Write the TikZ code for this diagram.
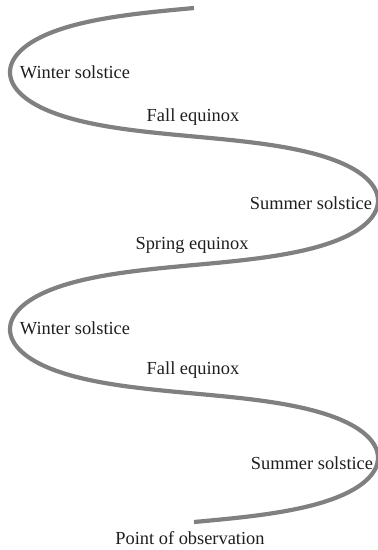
\documentclass[tikz,border=0pt]{standalone}
\usepackage{fontspec}
\setmainfont{Liberation Serif}
\usetikzlibrary{positioning}
\definecolor{helixC}{HTML}{808080}
\definecolor{labC}{HTML}{1E1E1E}
\tikzset{
  helix/.style={draw=helixC, line width=4.2pt, line join=round},
  lab/.style={font=\fontsize{18.4}{22}\selectfont, text=labC, inner sep=0pt, anchor=center},
}
\begin{document}
\begin{tikzpicture}[x=1pt, y=-1pt]
\useasboundingbox (0,0) rectangle (378,550);
\draw[helix] plot[smooth, domain=0:720, samples=181, variable=\t]
  ({194-184*sin(\t)}, {8+0.7139*\t-12*sin(2*\t)});
\node[lab] (winterA) at (75,72) {Winter solstice};
\node[lab] (fallA) at (193,117) {Fall equinox};
\node[lab] (summerA) at (311,203) {Summer solstice};
\node[lab] (spring) at (192,245) {Spring equinox};
\node[lab] (winterB) at (75,328) {Winter solstice};
\node[lab] (fallB) at (193,370) {Fall equinox};
\node[lab] (summerB) at (312,463) {Summer solstice};
\node[lab] (obs) at (190,538) {Point of observation};
\end{tikzpicture}
\end{document}
